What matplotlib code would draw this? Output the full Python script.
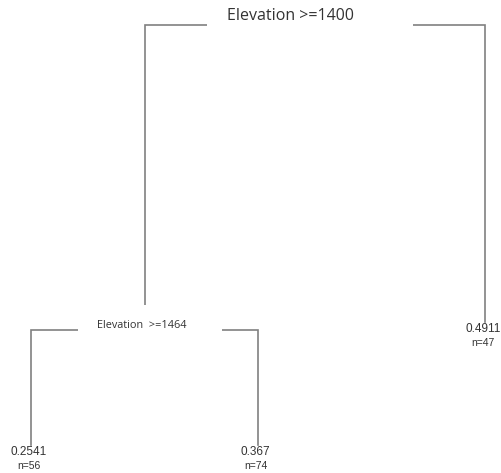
import matplotlib.pyplot as plt
from matplotlib.patches import Rectangle

# tree structure (tree-package style: node height = deviance)
node_id = [1, 2, 3, 4, 5]
node_parent = [0, 1, 1, 2, 2]
node_dev = [4.48, 1.43, 1.51, 0.28, 0.28]
split_label = {1: 'Elevation >=1400', 2: 'Elevation  >=1464'}
leaf_order = [4, 5, 3]                 # left to right
leaf_value = {4: '0.2541', 5: '0.367', 3: '0.4911'}
leaf_n = {4: 56, 5: 74, 3: 47}

line_col = '#808080'
text_col = '#333333'

# x position: leaves 1..k, internal node = mean of its children
xpos = {}
for i, leaf in enumerate(leaf_order):
    xpos[leaf] = i + 1.0
children = {n: [c for c, p in zip(node_id, node_parent) if p == n] for n in node_id}
def getx(n):
    if n not in xpos:
        xpos[n] = sum(getx(c) for c in children[n]) / len(children[n])
    return xpos[n]
for n in node_id:
    getx(n)
ypos = dict(zip(node_id, node_dev))

fig = plt.figure(figsize=(5.01, 4.73), dpi=100)
ax = fig.add_axes([0, 0, 1, 1])
ax.set_xlim(1 - 31 / 227, 1 + 470 / 227)
ax.set_ylim(0, 4.73)
ax.axis('off')

# branches
for n, p in zip(node_id, node_parent):
    if p == 0:
        continue
    ax.plot([xpos[n], xpos[n], xpos[p]], [ypos[n], ypos[p], ypos[p]],
            color=line_col, lw=1.2, solid_joinstyle='miter', zorder=1)

# split labels on a white patch (covers the line under the label)
box = {1: (-0.475, 0.433, -0.03, 0.3), 2: (-0.295, 0.34, -0.03, 0.28)}
txt = {1: (-0.105, 0.09, 11.5), 2: (-0.01, 0.05, 7.8)}
for n, lab in split_label.items():
    dl, dr, db, h = box[n]
    ax.add_patch(Rectangle((xpos[n] + dl, ypos[n] + db), dr - dl, h,
                           facecolor='white', edgecolor='none', zorder=2))
    dx, dy, fs = txt[n]
    ax.text(xpos[n] + dx, ypos[n] + dy, lab, ha='center', va='center',
            fontsize=fs, color=text_col, family='Open Sans', zorder=3)

# leaf labels
for leaf in leaf_order:
    ax.text(xpos[leaf] - 0.01, ypos[leaf] - 0.005, leaf_value[leaf], ha='center', va='top',
            fontsize=8.5, color=text_col, family='Liberation Sans', zorder=3)
    ax.text(xpos[leaf] - 0.01, ypos[leaf] - 0.16, 'n=%d' % leaf_n[leaf], ha='center', va='top',
            fontsize=7.5, color=text_col, family='Liberation Sans', zorder=3)

plt.savefig('out.png', dpi=100)
